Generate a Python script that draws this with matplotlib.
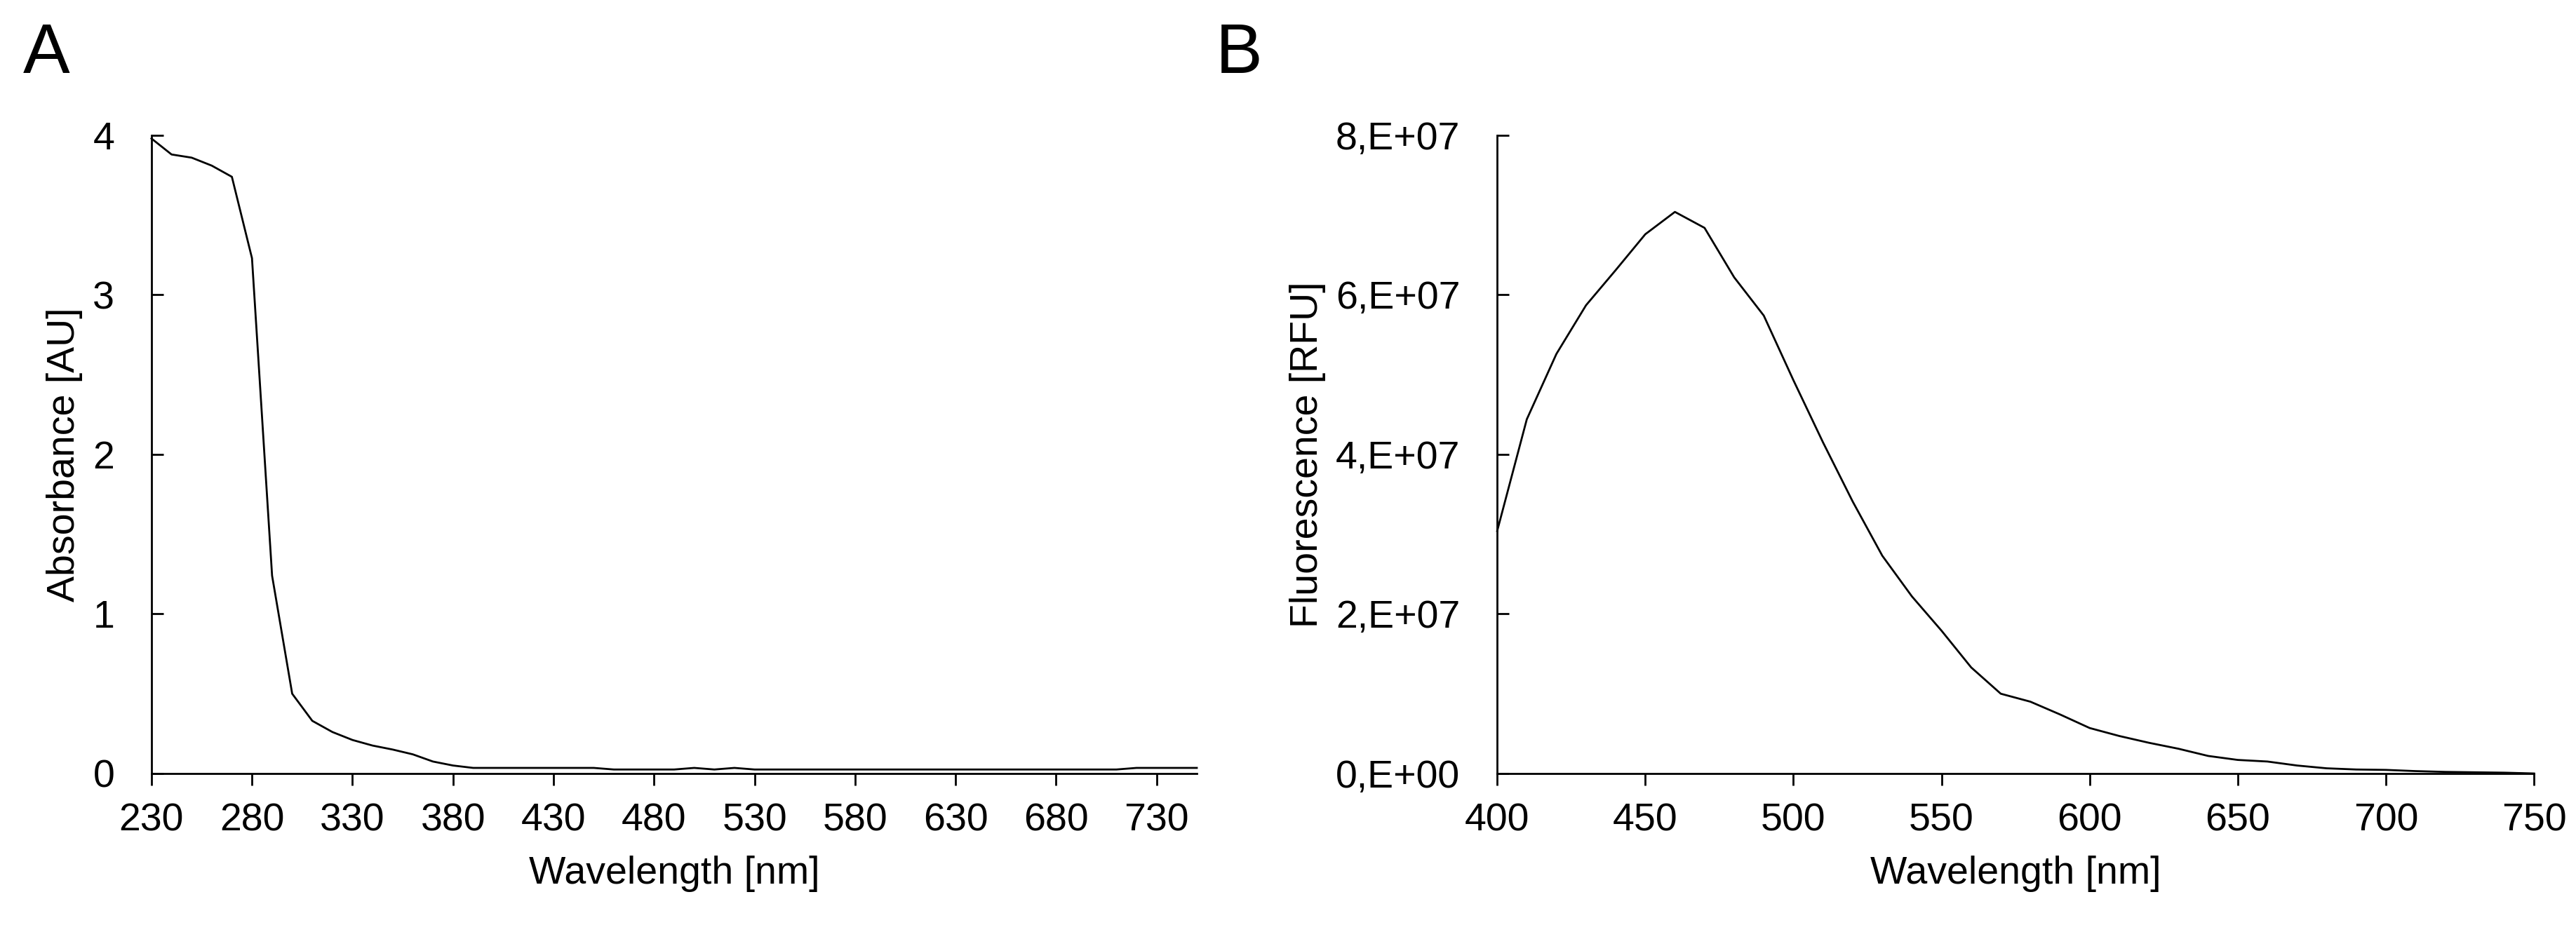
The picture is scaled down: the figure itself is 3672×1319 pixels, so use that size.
import numpy as np
import matplotlib

matplotlib.use("Agg")
import matplotlib.pyplot as plt

plt.rcParams["font.family"] = ["Liberation Sans", "DejaVu Sans"]

# Panel A: absorbance spectrum
abs_wavelength = [
    230, 240, 250, 260, 270, 280, 290, 300, 310, 320, 330, 340, 350, 360, 370,
    380, 390, 400, 410, 420, 430, 440, 450, 460, 470, 480, 490, 500, 510, 520,
    530, 540, 550, 560, 570, 580, 590, 600, 610, 620, 630, 640, 650, 660, 670,
    680, 690, 700, 710, 720, 730, 740, 750,
]
absorbance = [
    3.98, 3.88, 3.86, 3.81, 3.74, 3.23, 1.24, 0.50, 0.33, 0.26, 0.21, 0.175,
    0.15, 0.12, 0.075, 0.05, 0.035, 0.035, 0.035, 0.035, 0.035, 0.035, 0.035,
    0.025, 0.025, 0.025, 0.025, 0.035, 0.025, 0.035, 0.025, 0.025, 0.025,
    0.025, 0.025, 0.025, 0.025, 0.025, 0.025, 0.025, 0.025, 0.025, 0.025,
    0.025, 0.025, 0.025, 0.025, 0.025, 0.025, 0.035, 0.035, 0.035, 0.035,
]

# Panel B: fluorescence emission spectrum
fl_wavelength = [
    400, 410, 420, 430, 440, 450, 460, 470, 480, 490, 500, 510, 520, 530, 540,
    550, 560, 570, 580, 590, 600, 610, 620, 630, 640, 650, 660, 670, 680, 690,
    700, 710, 720, 730, 740, 750,
]
fluorescence = [
    3.04e7, 4.44e7, 5.26e7, 5.87e7, 6.31e7, 6.76e7, 7.04e7, 6.84e7, 6.22e7,
    5.74e7, 4.93e7, 4.15e7, 3.41e7, 2.73e7, 2.22e7, 1.79e7, 1.33e7, 1.00e7,
    0.90e7, 0.74e7, 0.57e7, 0.47e7, 0.385e7, 0.31e7, 0.22e7, 0.17e7, 0.15e7,
    0.10e7, 0.065e7, 0.05e7, 0.045e7, 0.03e7, 0.02e7, 0.015e7, 0.01e7, 0.0,
]

abs_xticks = list(range(230, 751, 50))
abs_yticks = [0, 1, 2, 3, 4]
fl_xticks = list(range(400, 751, 50))
fl_yticks = [0, 2e7, 4e7, 6e7, 8e7]
fl_yticklabels = ["0,E+00", "2,E+07", "4,E+07", "6,E+07", "8,E+07"]

FS = 40
LW = 2.0


def style_axes(ax):
    for side in ("top", "right"):
        ax.spines[side].set_visible(False)
    for side in ("left", "bottom"):
        ax.spines[side].set_linewidth(LW)
    ax.tick_params(axis="y", direction="in", length=12, width=LW, pad=38, labelsize=FS)
    ax.tick_params(axis="x", direction="out", length=12, width=LW, pad=18, labelsize=FS)


fig = plt.figure(figsize=(36.72, 13.19), dpi=100)
ax_a = fig.add_axes([0.0588, 0.1638, 0.4058, 0.6899])
ax_b = fig.add_axes([0.5812, 0.1638, 0.4025, 0.6899])

ax_a.plot(abs_wavelength, absorbance, color="black", lw=LW, clip_on=False)
ax_a.set_xlim(230, 750)
ax_a.set_ylim(0, 4)
ax_a.set_xticks(abs_xticks)
ax_a.set_yticks(abs_yticks)
ax_a.set_xlabel("Wavelength [nm]", fontsize=FS, labelpad=17)
ax_a.set_ylabel("Absorbance [AU]", fontsize=FS, labelpad=10)
style_axes(ax_a)

ax_b.plot(fl_wavelength, fluorescence, color="black", lw=LW, clip_on=False)
ax_b.set_xlim(400, 750)
ax_b.set_ylim(0, 8e7)
ax_b.set_xticks(fl_xticks)
ax_b.set_yticks(fl_yticks)
ax_b.set_yticklabels(fl_yticklabels)
ax_b.set_xlabel("Wavelength [nm]", fontsize=FS, labelpad=17)
ax_b.set_ylabel("Fluorescence [RFU]", fontsize=FS, labelpad=10)
style_axes(ax_b)

fig.text(0.009, 0.9212, "A", fontsize=72, va="baseline", ha="left")
fig.text(0.472, 0.9212, "B", fontsize=72, va="baseline", ha="left")

fig.savefig("out.png", dpi=100, facecolor="white")
